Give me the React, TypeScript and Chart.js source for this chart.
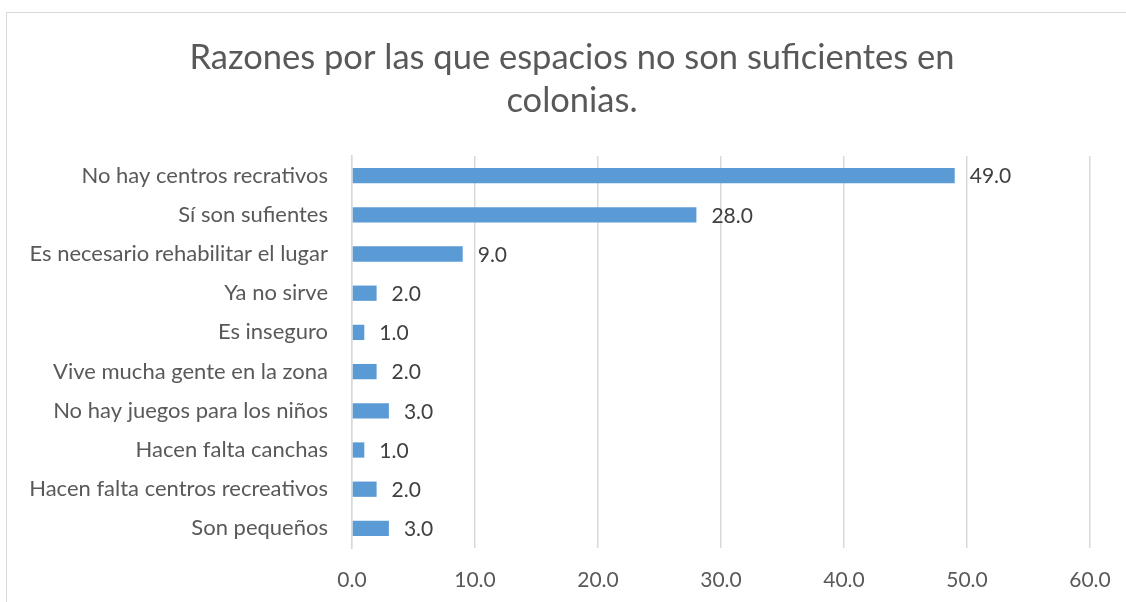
import React, { useEffect, useRef } from "react";
import { Chart, registerables } from "chart.js";

Chart.register(...registerables);

const categories = [
  "No hay centros recrativos",
  "Sí son sufientes",
  "Es necesario rehabilitar el lugar",
  "Ya no sirve",
  "Es inseguro",
  "Vive mucha gente en la zona",
  "No hay juegos para los niños",
  "Hacen falta canchas",
  "Hacen falta centros recreativos",
  "Son pequeños",
];
const values = [49, 28, 9, 2, 1, 2, 3, 1, 2, 3];
const titleLines = ["Razones por las que espacios no son suficientes en", "colonias."];
const xMin = 0;
const xMax = 60;
const xStep = 10;

const FONT = "Lato, sans-serif";

export default function App() {
  const ref = useRef<HTMLCanvasElement | null>(null);
  useEffect(() => {
    if (!ref.current) return;
    const framePlugin = {
      id: "frame",
      beforeDraw(chart: any) {
        const ctx = chart.ctx;
        ctx.save();
        ctx.fillStyle = "#ffffff";
        ctx.fillRect(0, 0, chart.width, chart.height);
        ctx.strokeStyle = "#D9D9D9";
        ctx.lineWidth = 1;
        ctx.strokeRect(6.5, 12.5, 1300, 800);
        ctx.fillStyle = "#595959";
        ctx.font = `34.5px ${FONT}`;
        ctx.textAlign = "center";
        ctx.textBaseline = "alphabetic";
        titleLines.forEach((t, i) => ctx.fillText(t, 572, 69 + i * 43));
        ctx.restore();
      },
      afterDatasetsDraw(chart: any) {
        const ctx = chart.ctx;
        const meta = chart.getDatasetMeta(0);
        ctx.save();
        ctx.fillStyle = "#404040";
        ctx.font = `21px ${FONT}`;
        ctx.textAlign = "left";
        ctx.textBaseline = "middle";
        meta.data.forEach((el: any, i: number) => {
          ctx.fillText(values[i].toFixed(1), el.x + 15, el.y + 1);
        });
        ctx.restore();
      },
    };
    const chart = new Chart(ref.current, {
      type: "bar",
      data: {
        labels: categories,
        datasets: [
          {
            data: values,
            backgroundColor: "#5B9BD5",
            categoryPercentage: 1,
            barPercentage: 0.39,
          },
        ],
      },
      options: {
        indexAxis: "y",
        animation: false,
        responsive: false,
        maintainAspectRatio: false,
        layout: { padding: { top: 156, right: 36, left: 0, bottom: 0 } },
        plugins: { legend: { display: false }, tooltip: { enabled: false }, title: { display: false } },
        scales: {
          x: {
            min: xMin,
            max: xMax,
            ticks: {
              stepSize: xStep,
              callback: (v: any) => Number(v).toFixed(1),
              color: "#595959",
              font: { family: FONT, size: 21 },
              padding: 20,
            },
            grid: { color: "#D9D9D9", lineWidth: 1.5, drawTicks: false },
            border: { display: false },
            afterFit(scale: any) {
              scale.height = 54;
              scale.paddingLeft = 0;
              scale.paddingRight = 0;
            },
          },
          y: {
            ticks: {
              color: "#595959",
              font: { family: FONT, size: 22 },
              padding: 24,
            },
            grid: { display: false, drawTicks: false },
            border: { display: true, color: "#D9D9D9", width: 1.5 },
            afterFit(scale: any) {
              scale.width = 352;
            },
          },
        },
      },
      plugins: [framePlugin],
    });
    return () => chart.destroy();
  }, []);
  return (
    <div style={{ position: "fixed", left: 0, top: 0, width: 1126, height: 602 }}>
      <canvas ref={ref} width={1126} height={602} style={{ width: 1126, height: 602, display: "block" }} />
    </div>
  );
}
